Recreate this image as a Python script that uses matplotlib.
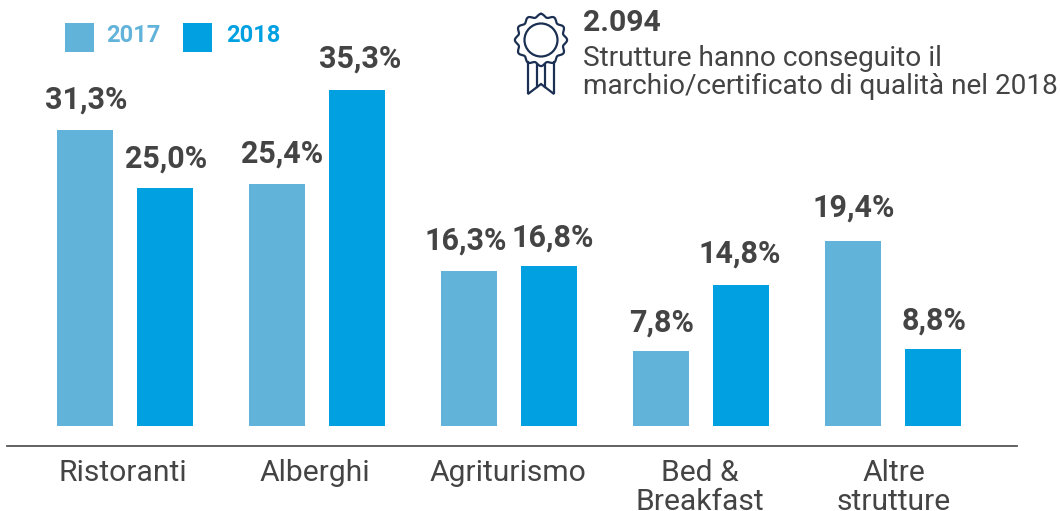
import numpy as np
import matplotlib
matplotlib.use("Agg")
import matplotlib.pyplot as plt
from matplotlib.patches import Rectangle, Circle

plt.rcParams["font.family"] = ["Roboto", "DejaVu Sans"]

categories = ["Ristoranti", "Alberghi", "Agriturismo", "Bed &\nBreakfast", "Altre\nstrutture"]
# altezze lette dalle barre: nel riferimento non sempre coincidono con le etichette
values_2017 = [31.1, 25.4, 16.3, 7.9, 19.4]
values_2018 = [25.0, 35.3, 16.8, 14.8, 8.1]
labels_2017 = ["31,3%", "25,4%", "16,3%", "7,8%", "19,4%"]
labels_2018 = ["25,0%", "35,3%", "16,8%", "14,8%", "8,8%"]

# scostamenti delle etichette, in pixel
shift_x_2017 = [1, 5, -3, 0, 1]
shift_x_2018 = [1, 3, 4, -1, 1]
shift_y_2017 = [1, 1, 1, -1, 4]
shift_y_2018 = [0, 2, -1, 2, -1]
shift_x_cat = [-1, -1, 0, 0, 2]

COLOR_2017 = "#62B3D9"
COLOR_2018 = "#00A0E1"
DARK = "#444444"
NAVY = "#1B2F52"

W, H = 1060, 511
px_per_cat = 192
px_per_unit = 9.52
x0_px, y0_px = 125, 426

fig = plt.figure(figsize=(W / 100, H / 100), dpi=100)

# assi dati a tutta figura, scale tarate sui pixel del riferimento
ax = fig.add_axes([0, 0, 1, 1])
ax.set_xlim(-x0_px / px_per_cat, (W - x0_px) / px_per_cat)
ax.set_ylim(-(H - y0_px) / px_per_unit, y0_px / px_per_unit)
ax.axis("off")

x = np.arange(len(categories))
ax.bar(x - 0.208, values_2017, width=0.292, color=COLOR_2017)
ax.bar(x + 0.2065, values_2018, width=0.292, color=COLOR_2018)

for xi, v, lab, dx, dy in zip(x - 0.208, values_2017, labels_2017, shift_x_2017, shift_y_2017):
    ax.annotate(lab, (xi, v), xytext=(dx * 0.72, 10.5 + dy * 0.72), textcoords="offset points",
                ha="center", va="bottom", fontsize=22, fontweight="bold", color=DARK)
for xi, v, lab, dx, dy in zip(x + 0.2065, values_2018, labels_2018, shift_x_2018, shift_y_2018):
    ax.annotate(lab, (xi, v), xytext=(dx * 0.72, 10.5 + dy * 0.72), textcoords="offset points",
                ha="center", va="bottom", fontsize=22, fontweight="bold", color=DARK)

for xi, cat, dx in zip(x, categories, shift_x_cat):
    ax.text(xi - 0.005 + dx / px_per_cat, -(459 - y0_px) / px_per_unit, cat, ha="center", va="top",
            fontsize=21.6, color=DARK, linespacing=1.03)

# sovrapposizione in pixel per legenda, linea di base e icona
ov = fig.add_axes([0, 0, 1, 1])
ov.set_xlim(0, W)
ov.set_ylim(H, 0)
ov.axis("off")

ov.plot([7, 1017], [446, 446], color="#555555", lw=1.3)

ov.add_patch(Rectangle((65, 23), 29, 29, color=COLOR_2017, lw=0))
ov.add_patch(Rectangle((183, 23), 29, 29, color=COLOR_2018, lw=0))
ov.text(106, 36, "2017", fontsize=17, fontweight="bold", color=COLOR_2017, va="center")
ov.text(226, 36, "2018", fontsize=17, fontweight="bold", color=COLOR_2018, va="center")

ov.text(583, 23, "2.094", fontsize=21.7, fontweight="bold", color=DARK, va="center")
ov.text(583, 58, "Strutture hanno conseguito il", fontsize=20.2, color=DARK, va="center")
ov.text(583, 86, "marchio/certificato di qualità nel 2018", fontsize=20.2, color=DARK, va="center")

# icona coccarda
cx, cy = 541, 40
t = np.linspace(0, 2 * np.pi, 400)
r = 24.5 + 1.6 * np.cos(12 * t)
ov.plot(cx + r * np.sin(t), cy - r * np.cos(t), color=NAVY, lw=1.6)
ov.add_patch(Circle((cx, cy), 16.5, fill=False, ec=NAVY, lw=1.6))
ov.plot([528, 528, 541, 554, 554], [62, 94, 84, 94, 62], color=NAVY, lw=1.6, solid_joinstyle="miter")
ov.plot([537, 537], [65, 87], color=NAVY, lw=1.6)
ov.plot([545, 545], [65, 87], color=NAVY, lw=1.6)

fig.savefig("out.png", dpi=100)
